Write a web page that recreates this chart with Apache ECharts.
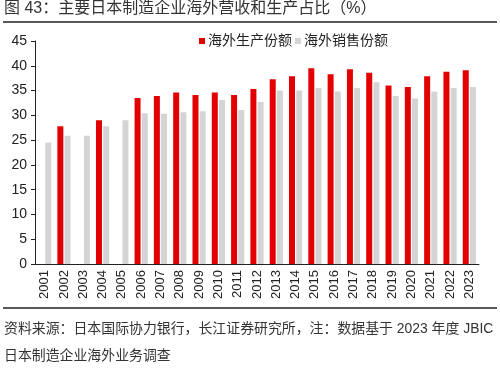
<!DOCTYPE html>
<html><head><meta charset="utf-8">
<script src="https://cdn.jsdelivr.net/npm/echarts@6/dist/echarts.min.js"></script>
<style>html,body{margin:0;padding:0;background:#fff}#c{width:500px;height:370px}</style>
</head><body><div id="c"></div>
<script>
const years = ['2001','2002','2003','2004','2005','2006','2007','2008','2009','2010','2011','2012','2013','2014','2015','2016','2017','2018','2019','2020','2021','2022','2023'];
const production = [null,27.8,null,29.0,null,33.5,33.9,34.6,34.1,34.6,34.1,35.3,37.3,37.9,39.5,38.3,39.3,38.6,36.0,35.7,37.9,38.8,39.1];
const sales = [24.5,25.9,25.9,27.8,29.0,30.4,30.3,30.6,30.8,33.1,31.1,32.7,35.0,35.0,35.5,34.8,35.5,36.7,33.9,33.4,34.8,35.5,35.7];
const yTicks = [0,5,10,15,20,25,30,35,40,45];
const seriesNames = ['海外生产份额','海外销售份额'];
const titleText = '图 43：主要日本制造企业海外营收和生产占比（%）';
const footer1 = '资料来源：日本国际协力银行，长江证券研究所，注：数据基于 2023 年度 JBIC';
const footer2 = '日本制造企业海外业务调查';

const font = '"Liberation Sans","Noto Sans CJK SC",sans-serif';
const chart = echarts.init(document.getElementById('c'), null, {renderer:'canvas'});
chart.setOption({
  animation:false,
  textStyle:{fontFamily:font},
  graphic:[
    {type:'text', left:4, top:1, style:{text:titleText, font:'16px '+font, fill:'#333'}},
    {type:'line', shape:{x1:3,y1:22,x2:497,y2:22}, style:{stroke:'#222', lineWidth:1.3}},
    {type:'line', shape:{x1:3,y1:308,x2:497,y2:308}, style:{stroke:'#222', lineWidth:1.3}},
    {type:'text', left:4, top:322, style:{text:footer1, font:'13.9px '+font, fill:'#333'}},
    {type:'text', left:4, top:349, style:{text:footer2, font:'13.9px '+font, fill:'#333'}}
  ],
  legend:{
    data:seriesNames, left:194, top:29, icon:'rect', itemWidth:6, itemHeight:6, itemGap:3,
    textStyle:{fontSize:14, color:'#222', fontFamily:font, padding:[0,0,0,-2]}
  },
  grid:{left:35, right:21, top:41, bottom:106, containLabel:false},
  xAxis:{
    type:'category', data:years,
    axisLine:{lineStyle:{color:'#222', width:1}},
    axisTick:{inside:true, length:4, lineStyle:{color:'#222'}},
    axisLabel:{rotate:90, fontSize:13, color:'#222', margin:6, interval:0, fontFamily:font}
  },
  yAxis:{
    type:'value', min:yTicks[0], max:yTicks[yTicks.length-1], interval:5,
    splitLine:{show:false},
    axisLine:{show:true, lineStyle:{color:'#222'}},
    axisTick:{show:true, length:4, lineStyle:{color:'#222'}},
    axisLabel:{fontSize:14, color:'#222', margin:8, fontFamily:font}
  },
  series:[
    {name:seriesNames[0], type:'bar', data:production, barWidth:6, barGap:'20%', itemStyle:{color:'#E30000'}},
    {name:seriesNames[1], type:'bar', data:sales, barWidth:6, barGap:'20%', itemStyle:{color:'#D4D4D4'}}
  ]
});
</script></body></html>
